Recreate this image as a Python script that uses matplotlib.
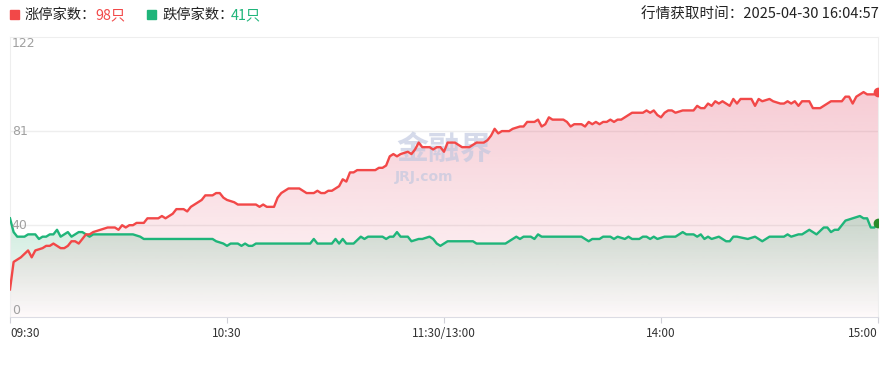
import numpy as np
import matplotlib
matplotlib.use("Agg")
import matplotlib.pyplot as plt
import matplotlib.colors as mcolors
from matplotlib.patches import Rectangle

plt.rcParams['font.family'] = ['Noto Sans CJK SC', 'DejaVu Sans']

# limit-up count (minute index from 09:30, 0..240)
up_min = [0, 1, 2, 3, 5, 6, 7, 9, 10, 11, 12, 14, 15, 16, 17, 18, 19, 20, 21, 22,
          23, 25, 27, 29, 30, 31, 32, 33, 34, 35, 37, 38, 41, 42, 43, 45, 46, 48, 49, 50,
          51, 52, 53, 54, 56, 57, 58, 59, 60, 62, 63, 68, 69, 70, 71, 73, 74, 75, 76, 77,
          80, 81, 82, 84, 85, 86, 87, 88, 89, 90, 91, 92, 93, 94, 95, 96, 101, 102, 103, 104,
          105, 106, 107, 108, 110, 111, 112, 113, 114, 116, 117, 118, 119, 120, 121, 123, 124, 125, 127, 128,
          129, 131, 132, 133, 134, 135, 136, 138, 139, 141, 142, 143, 145, 146, 147, 148, 149, 150, 153, 154,
          155, 156, 158, 159, 160, 161, 162, 163, 164, 165, 166, 167, 168, 169, 170, 171, 172, 175, 176, 177,
          178, 179, 180, 181, 182, 183, 184, 186, 189, 190, 191, 192, 193, 194, 195, 196, 197, 198, 199, 200,
          201, 202, 205, 206, 207, 208, 210, 211, 213, 214, 215, 216, 217, 218, 219, 221, 222, 224, 226, 227,
          230, 231, 232, 233, 234, 236, 237, 239, 240]
up_val = [12, 24, 25, 26, 29, 26, 29, 30, 31, 31, 32, 30, 30, 31, 33, 33, 32, 34, 36, 36,
          37, 38, 39, 39, 38, 40, 39, 40, 40, 41, 41, 43, 43, 44, 43, 45, 47, 47, 46, 48,
          49, 50, 51, 53, 53, 54, 54, 52, 51, 50, 49, 49, 48, 49, 48, 48, 52, 54, 55, 56,
          56, 55, 54, 54, 55, 54, 54, 55, 55, 56, 57, 60, 59, 63, 63, 64, 64, 65, 65, 66,
          70, 71, 70, 71, 72, 71, 73, 76, 74, 74, 73, 74, 74, 72, 76, 76, 75, 74, 74, 75,
          76, 76, 77, 79, 82, 80, 81, 81, 82, 83, 83, 85, 85, 86, 83, 84, 87, 86, 86, 85,
          83, 84, 84, 83, 85, 84, 85, 84, 85, 85, 86, 85, 86, 86, 87, 88, 89, 89, 90, 89,
          90, 88, 87, 89, 90, 90, 89, 90, 90, 92, 91, 91, 93, 92, 94, 93, 94, 93, 92, 95,
          93, 95, 95, 92, 95, 94, 95, 94, 93, 93, 94, 93, 94, 92, 94, 94, 91, 91, 93, 94,
          94, 96, 96, 93, 96, 98, 97, 97, 98]

# limit-down count
down_min = [0, 1, 2, 4, 5, 7, 8, 9, 10, 11, 12, 13, 14, 15, 16, 17, 18, 19, 20, 22,
            23, 34, 36, 37, 56, 57, 59, 60, 61, 63, 64, 65, 66, 67, 68, 83, 84, 85, 89, 90,
            91, 92, 93, 95, 97, 98, 99, 103, 104, 105, 106, 107, 108, 110, 111, 113, 114, 116, 117, 118,
            119, 120, 121, 128, 129, 137, 138, 139, 140, 141, 142, 144, 145, 146, 147, 158, 159, 160, 161, 163,
            164, 166, 167, 168, 170, 171, 172, 174, 175, 176, 177, 178, 179, 181, 184, 185, 186, 187, 189, 190,
            191, 192, 193, 194, 196, 197, 198, 199, 200, 201, 204, 206, 208, 210, 214, 215, 216, 218, 219, 221,
            223, 225, 226, 227, 228, 229, 230, 231, 233, 235, 236, 237, 238, 239, 240]
down_val = [43, 37, 35, 35, 36, 36, 34, 35, 35, 36, 36, 38, 35, 36, 37, 35, 36, 37, 37, 35,
            36, 36, 35, 34, 34, 33, 32, 31, 32, 32, 31, 32, 31, 31, 32, 32, 34, 32, 32, 34,
            32, 34, 32, 32, 35, 34, 35, 35, 34, 35, 35, 37, 35, 35, 33, 34, 34, 35, 34, 32,
            31, 32, 33, 33, 32, 32, 33, 34, 35, 34, 35, 35, 34, 36, 35, 35, 34, 33, 34, 34,
            35, 35, 34, 35, 34, 35, 34, 34, 35, 35, 34, 35, 34, 35, 35, 36, 37, 36, 36, 35,
            36, 34, 35, 34, 35, 34, 33, 33, 35, 35, 34, 35, 33, 35, 35, 36, 35, 36, 36, 38,
            36, 39, 39, 37, 38, 38, 40, 42, 43, 44, 43, 43, 39, 39, 41]

tick_pos = [0, 60, 120, 180, 240]
tick_lab = ['09:30', '10:30', '11:30/13:00', '14:00', '15:00']
ytick_val = [0, 40, 81, 122]

RED = '#f24848'
GREEN = '#1fb57a'

W, H = 892, 366
fig = plt.figure(figsize=(W / 100, H / 100), dpi=100)
ax = fig.add_axes([10 / W, 49 / H, 868 / W, 280 / H])


def grad_fill(ax, x, y, color, a_top, a_bot, z):
    poly = ax.fill_between(x, y, 0, color='none', lw=0)
    img = np.zeros((256, 1, 4))
    img[:, 0, :3] = mcolors.to_rgb(color)
    img[:, 0, 3] = np.linspace(a_top, a_bot, 256)
    im = ax.imshow(img, extent=[x[0], x[-1], 0, max(y)], origin='upper',
                   aspect='auto', zorder=z, interpolation='bilinear')
    im.set_clip_path(poly.get_paths()[0], transform=ax.transData)


grad_fill(ax, up_min, up_val, '#e24a68', 0.28, 0.03, 1)
grad_fill(ax, down_min, down_val, '#18a060', 0.22, 0.0, 2)

# watermark
ax.text(120, 73, '金融界', fontsize=23, fontweight='bold', color='#bfc7df',
        alpha=0.65, ha='center', va='center', zorder=2.5)
ax.text(106.5, 61, 'JRJ.com', fontsize=10, fontweight='bold', color='#bfc7df',
        alpha=0.65, ha='left', va='center', zorder=2.5, family='DejaVu Sans')

ax.plot(down_min, down_val, color=GREEN, lw=1.7, zorder=4)
ax.plot(up_min, up_val, color=RED, lw=1.7, zorder=5)
ax.plot(up_min[-1], up_val[-1], 'o', color=RED, ms=6, zorder=6)
ax.plot(down_min[-1], down_val[-1], 'o', color='#2a8a2a', ms=6, zorder=6)

ax.set_xlim(0, 240)
ax.set_ylim(0, 122)

for s in ['top', 'left', 'right']:
    ax.spines[s].set_color('#eeeeee')
ax.spines['bottom'].set_color('#dcdce4')
for v in ytick_val[1:-1]:
    ax.axhline(v, color='#eeeeee', lw=1, zorder=0.5)

ax.set_yticks([])
for v in ytick_val:
    va = 'top' if v == 122 else ('bottom' if v == 0 else 'center')
    ax.text(0.5, v, str(v), fontsize=9, color='#a0a0a0', ha='left', va=va,
            zorder=7, family='DejaVu Sans')

ax.set_xticks(tick_pos)
ax.set_xticklabels(tick_lab, fontsize=8.5, color='#333333')
ax.tick_params(axis='x', length=4, color='#d0d0d8', pad=3)
labs = ax.get_xticklabels()
labs[0].set_ha('left')
labs[-1].set_ha('right')

# legend header
def px(x, y):
    return x / W, 1 - y / H

fig.add_artist(Rectangle(px(10, 19), 9 / W, 9 / H, transform=fig.transFigure, color=RED))
fig.add_artist(Rectangle(px(147, 19), 9 / W, 9 / H, transform=fig.transFigure, color=GREEN))
fig.text(*px(25, 15), '涨停家数：', fontsize=10.3, color='#222222', va='center')
fig.text(*px(95, 15), '98只', fontsize=10.3, color=RED, va='center')
fig.text(*px(162, 15), '跌停家数：', fontsize=10.3, color='#222222', va='center')
fig.text(*px(231, 15), '41只', fontsize=10.3, color=GREEN, va='center')
fig.text(*px(879, 15), '行情获取时间：2025-04-30 16:04:57', fontsize=10.5,
         color='#222222', va='center', ha='right')

fig.savefig('out.png', dpi=100)
